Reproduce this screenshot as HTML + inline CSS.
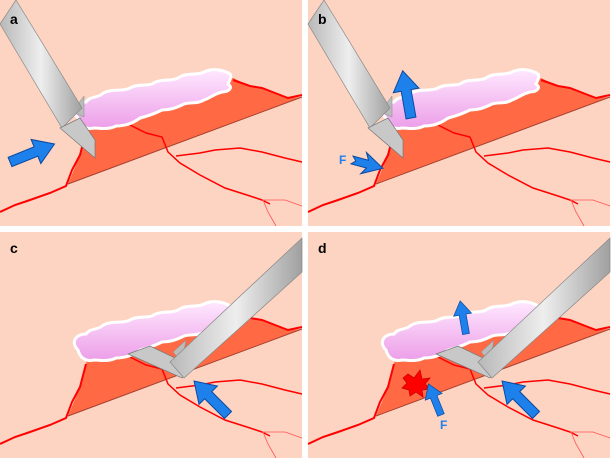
<!DOCTYPE html>
<html><head><meta charset="utf-8"><style>body{margin:0;background:#fff}svg{display:block}</style></head>
<body>
<svg width="612" height="458" viewBox="0 0 612 458" xmlns="http://www.w3.org/2000/svg" font-family="Liberation Sans, sans-serif">
<defs>
<linearGradient id="cl" x1="0" y1="0" x2="0" y2="1"><stop offset="0" stop-color="#ffe8ff"/><stop offset="1" stop-color="#ec9ee8"/></linearGradient>
<linearGradient id="bar" x1="0" y1="0" x2="1" y2="0"><stop offset="0" stop-color="#b8b8b8"/><stop offset="0.5" stop-color="#eeeeee"/><stop offset="1" stop-color="#a0a0a0"/></linearGradient>
<path id="arr" d="M0,-5 L28,-5 L28,-13 L48,0 L28,13 L28,5 L0,5Z" fill="#1E80EA" stroke="#0a4aa0" stroke-width="1"/>
<path id="arrS" d="M0,-4 L16,-4 L12,-11 L32,0 L12,11 L16,4 L0,4 L4,0Z" fill="#1E80EA" stroke="#0a4aa0" stroke-width="1"/>
<g id="base">
<rect x="0" y="0" width="302" height="226" fill="#FDD3C1"/>
<polygon points="68,184 78,160 87,128 140,120 233,78 250,86 262,88 275,93 288,98 302,97" fill="#FF6A45"/>
<line x1="68" y1="184" x2="302" y2="97" stroke="#a84030" stroke-width="1"/>
<polyline points="0,212 15,205 30,200 50,193 66,186 72,170 80,155 86,132" fill="none" stroke="#f00" stroke-width="2"/>
<polyline points="233,80 250,86 262,88 275,93 288,98 302,95" fill="none" stroke="#f00" stroke-width="2"/>
<polyline points="130,125 146,133 162,137 168,152 180,163 200,175 225,188 250,196 262,200 270,204" fill="none" stroke="#f00" stroke-width="1.5"/>
<polyline points="176,156 200,153 215,150 240,148 262,152 285,158 302,162" fill="none" stroke="#f00" stroke-width="1.5"/>
<polyline points="262,200 285,200 302,206" fill="none" stroke="#f55" stroke-width="0.8"/>
<polyline points="263,200 268,212 276,226" fill="none" stroke="#f55" stroke-width="0.8"/>
<path d="M78,118 C70,110 76,102 86,102 C90,96 98,98 102,94 C110,88 122,92 130,88 C136,84 146,86 152,84 C160,78 170,82 178,78 C186,72 196,76 204,72 C212,68 222,70 226,72 C234,74 230,80 228,84 C234,88 228,92 222,92 C214,94 210,98 204,100 C198,104 190,102 184,104 C176,108 170,110 162,110 C154,114 148,116 140,118 C132,124 124,126 116,126 C108,130 100,128 94,128 C86,130 80,126 78,118Z" fill="url(#cl)" stroke="#fff" stroke-width="3"/>
</g>
<g id="instA">
<polygon points="72,112 84,96 84,117" fill="#bbb" stroke="#888" stroke-width="0.5"/>
<polygon points="0,24 16,0 82,108 62,128" fill="url(#bar)" stroke="#888" stroke-width="0.7"/>
<polygon points="60,128 80,118 95,140 95,158" fill="#c8c8c8" stroke="#777" stroke-width="0.7"/>
</g>
<g id="instC">
<polygon points="173,120 186,108 182,130" fill="#bbb" stroke="#888" stroke-width="0.5"/>
<polygon points="128,122 150,114 192,134 182,146" fill="#c8c8c8" stroke="#777" stroke-width="0.7"/>
<polygon points="302,6 302,40 184,146 170,130" fill="url(#bar)" stroke="#888" stroke-width="0.7"/>
</g>
</defs>
<use href="#base"/><use href="#instA"/>
<g transform="translate(308,0)"><use href="#base"/><use href="#instA"/></g>
<g transform="translate(0,232)"><use href="#base"/><use href="#instC"/></g>
<g transform="translate(308,232)"><use href="#base"/><use href="#instC"/>
<polygon points="100,142 106,146 112,138 114,147 122,146 117,152 123,157 114,158 115,165 108,160 102,164 101,158 94,156 99,151 95,146" fill="#f00" stroke="#c00" stroke-width="0.8"/>
</g>
<use href="#arr" transform="translate(10,162) rotate(-22)"/>
<use href="#arr" transform="translate(411,118) rotate(-100)"/>
<use href="#arrS" transform="translate(352,160) rotate(15)"/>
<use href="#arr" transform="translate(228,415) rotate(-135)"/>
<use href="#arr" transform="translate(536,415) rotate(-135)"/>
<use href="#arr" transform="translate(441,415) rotate(-112) scale(0.7)"/>
<use href="#arr" transform="translate(466,334) rotate(-100) scale(0.7)"/>
<text x="10" y="24" font-size="14" font-weight="bold">a</text>
<text x="318" y="24" font-size="14" font-weight="bold">b</text>
<text x="10" y="253" font-size="14" font-weight="bold">c</text>
<text x="318" y="253" font-size="14" font-weight="bold">d</text>
<text x="339" y="164" font-size="12" font-weight="bold" fill="#1E80EA">F</text>
<text x="440" y="429" font-size="12" font-weight="bold" fill="#1E80EA">F</text>
</svg>
</body></html>
